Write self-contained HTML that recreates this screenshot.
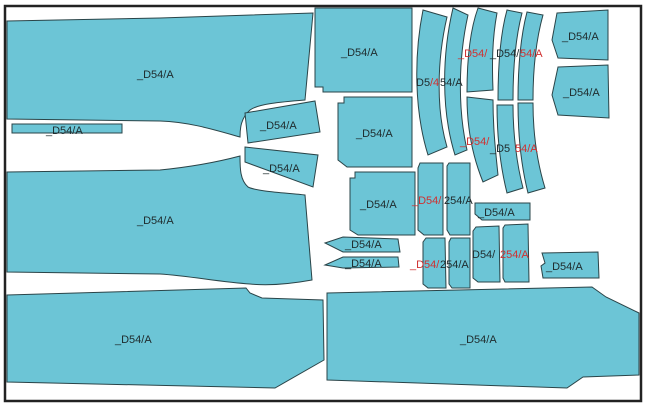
<!DOCTYPE html>
<html><head><meta charset="utf-8"><style>
html,body{margin:0;padding:0;background:#fff;width:648px;height:406px;overflow:hidden}
svg{display:block}
polygon,path,rect{fill:#6cc5d6;stroke:#2a4448;stroke-width:1}
text{font-family:"Liberation Sans",sans-serif;font-size:11px;fill:#1e2a2c}
.r{fill:#d03030}
</style></head><body>
<svg width="648" height="406" viewBox="0 0 648 406" xmlns="http://www.w3.org/2000/svg">
<rect x="5" y="6" width="636" height="395" style="fill:#fff;stroke:#222;stroke-width:2.5"/>
<!-- left big top -->
<path d="M7,21 L160,18 L313,13 L305,100 C280,102 258,104 250,110 C241,118 240,128 240,137 C215,130 190,122 160,121 L7,119 Z"/>
<rect x="12" y="124" width="110" height="9"/>
<polygon points="245,113 315,101 320,132 248,143"/>
<polygon points="245,147 318,155 313,187 245,162"/>
<!-- left big middle -->
<path d="M7,172 L160,170 C200,166 225,160 240,156 C240,168 240,180 248,187 C258,192 290,193 305,195 L312,280 C290,284 270,286 250,284 C220,282 190,276 160,274 L7,272 Z"/>
<!-- bottom pieces -->
<polygon points="7,295 246,288 250,293 262,298 323,300 324,360 275,388 7,382"/>
<polygon points="327,293 592,287 606,297 639,313 639,375 583,377 567,388 327,380"/>
<!-- squares -->
<polygon points="315,8 412,8 412,92 323,92 323,87 315,87"/>
<polygon points="344,97 412,97 412,167 347,167 338,160 338,103 344,103"/>
<polygon points="355,172 415,172 415,235 358,235 350,230 350,178 355,178"/>
<!-- arcs -->
<path d="M423,10 L447,17 C437,60 436,110 447,147 L428,155 C414,110 414,55 423,10 Z"/>
<path d="M453,8 L468,15 C458,60 458,110 467,150 L455,155 C441,110 442,55 453,8 Z"/>
<path d="M478,8 L497,13 C492,40 492,65 493,90 L467,92 C467,60 470,30 478,8 Z"/>
<path d="M467,97 L493,100 C493,130 496,155 498,175 L483,182 C472,155 467,125 467,97 Z"/>
<path d="M507,10 L522,13 C515,40 513,70 513,100 L498,100 C498,65 500,35 507,10 Z"/>
<path d="M497,105 L513,105 C513,135 517,165 523,188 L507,193 C500,165 497,135 497,105 Z"/>
<path d="M527,12 L543,15 C536,40 533,70 533,100 L518,100 C518,65 521,35 527,12 Z"/>
<path d="M518,103 L533,103 C533,135 538,165 545,188 L528,193 C521,165 518,135 518,103 Z"/>
<!-- right pieces -->
<polygon points="557,13 608,10 608,60 558,58 552,40"/>
<polygon points="558,67 608,65 609,118 558,115 552,95"/>
<!-- small rects -->
<path d="M420,163 L443,163 L443,235 L424,235 L418,230 L418,168 Z"/>
<path d="M449,163 L470,163 L470,235 L450,235 L447,230 L447,166 Z"/>
<polygon points="475,203 530,203 530,220 482,220 475,214"/>
<path d="M426,238 L445,238 L446,288 L428,288 L423,284 L423,242 Z"/>
<path d="M451,238 L470,238 L470,288 L452,288 L449,284 L449,242 Z"/>
<path d="M476,227 L499,226 L500,282 L478,282 L473,278 L473,231 Z"/>
<path d="M505,225 L528,224 L529,282 L505,282 L503,278 L503,228 Z"/>
<polygon points="542,253 598,252 599,278 543,278 541,266 545,263"/>
<polygon points="325,243 343,237 398,239 400,252 343,252"/>
<polygon points="325,265 343,257 398,257 399,267 343,268"/>
<!-- labels -->
<text x="137" y="78">_D54/A</text>
<text x="46" y="134">_D54/A</text>
<text x="260" y="129">_D54/A</text>
<text x="263" y="172">_D54/A</text>
<text x="137" y="224">_D54/A</text>
<text x="115" y="343">_D54/A</text>
<text x="460" y="343">_D54/A</text>
<text x="341" y="56">_D54/A</text>
<text x="356" y="137">_D54/A</text>
<text x="360" y="208">_D54/A</text>
<text x="562" y="40">_D54/A</text>
<text x="563" y="96">_D54/A</text>
<text x="478" y="216">_D54/A</text>
<text x="546" y="270">_D54/A</text>
<text x="345" y="248">_D54/A</text>
<text x="345" y="267">_D54/A</text>
<text x="416" y="86">D5</text><text x="430" y="86" class="r">/4</text><text x="440" y="86">54/A</text>
<text x="458" y="57" class="r">_D54/</text><text x="490" y="57">_D54/</text><text x="520" y="57" class="r">54/A</text>
<text x="460" y="145" class="r">_D54/</text><text x="490" y="152">_D5</text><text x="515" y="152" class="r">54/A</text>
<text x="412" y="204" class="r">_D54/</text><text x="444" y="204">254/A</text>
<text x="410" y="268" class="r">_D54/</text><text x="440" y="268">254/A</text>
<text x="472" y="258">D54/</text><text x="500" y="258" class="r">254/A</text>
</svg>
</body></html>
